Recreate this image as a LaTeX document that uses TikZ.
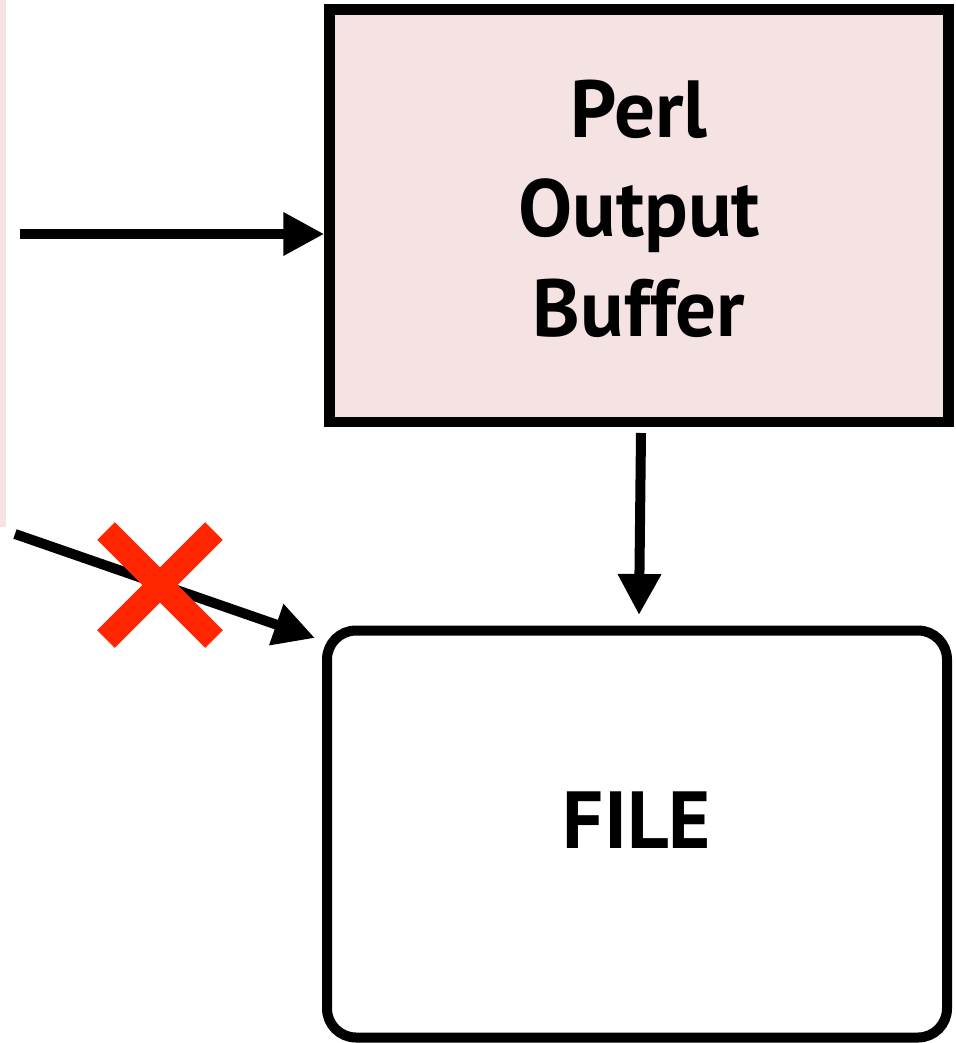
\documentclass[tikz,border=0pt]{standalone}
\usepackage{fontspec}
\setmainfont{PT Sans}
\usetikzlibrary{arrows.meta}
\definecolor{bufpink}{RGB}{244,227,226}
\definecolor{crossred}{RGB}{255,38,0}
\tikzset{
  boxlabel/.style={font=\bfseries\fontsize{81}{99.5}\selectfont, align=center},
  bufferbox/.style={draw=black, line width=10.5pt, fill=bufpink,
    minimum width=619pt, minimum height=412.5pt, boxlabel, text depth=16pt},
  filebox/.style={draw=black, line width=10pt, rounded corners=29pt,
    minimum width=620pt, minimum height=407pt, boxlabel, text depth=28pt},
  flow/.style={line width=10pt, -{Triangle[length=41pt,width=41pt]}},
  crossbar/.style={line width=25pt, draw=crossred, line cap=butt}
}
\begin{document}
\begin{tikzpicture}[x=1pt, y=-1pt]
  \useasboundingbox (0,0) rectangle (955,1043);
  % pale strip at the left margin
  \fill[bufpink] (0,0) rectangle (6,527);

  % boxes
  \node[bufferbox] (perl) at (639,215.75) {Perl\\Output\\Buffer};
  \node[filebox] (file) at (637,834) {FILE};

  % free ends of the connectors
  \coordinate (inA) at (20,234);
  \coordinate (inB) at (15,534);
  \coordinate (tipB) at (315,638);
  \coordinate (outTop) at (641,433);
  \coordinate (outTip) at (639,615);

  % connectors
  \draw[flow] (inA) -- (inA -| perl.west);
  \draw[flow] (inB) -- (tipB);
  \draw[flow] (outTop) -- (outTip);

  % red cross over the direct path
  \draw[crossbar] (106,531) -- (214,639);
  \draw[crossbar] (214,531) -- (106,639);
\end{tikzpicture}
\end{document}
